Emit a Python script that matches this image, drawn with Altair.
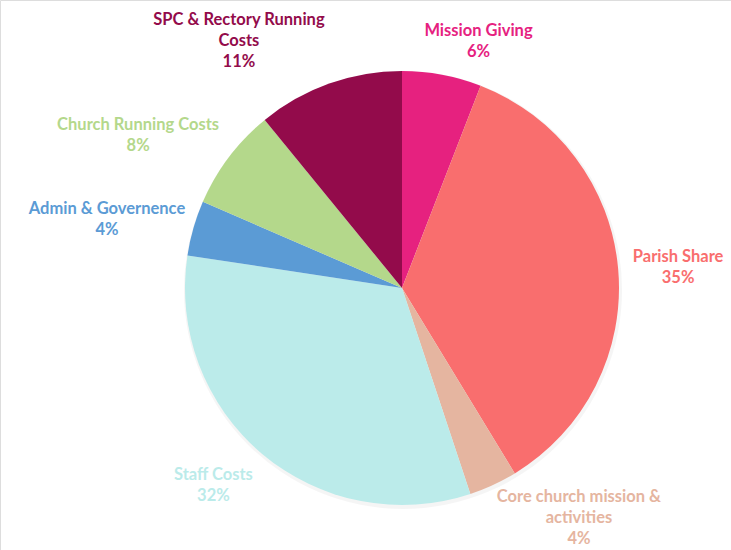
import math
import altair as alt
import pandas as pd

categories = ["Mission Giving", "Parish Share", "Core church mission &\nactivities",
              "Staff Costs", "Admin & Governence", "Church Running Costs",
              "SPC & Rectory Running\nCosts"]
values = [5.9, 35.4, 3.6, 32.5, 4.1, 7.6, 10.9]
colors = ["#E6217F", "#F96E6E", "#E5B5A0", "#BBEBEA", "#5B9BD5", "#B4D88B", "#930B4B"]

W, H = 731, 550
R = 217
GAP = 14
FONT_SIZE = 16.5
LINE_H = 21
KH, KV = 3.5, 1.2


def text_width(s):
    w = 0.0
    for ch in s:
        if ch in "iljtfr .,'I":
            w += 4.6
        elif ch in "mwMWGCRSP%&":
            w += 11.0
        else:
            w += 8.6
    return w


rows = []
total = sum(values)
cum = 0.0
cx, cy = 402, 288
for i, (c, v) in enumerate(zip(categories, values)):
    mid = (cum + v / 2) / total * 2 * math.pi
    cum += v
    label = f"{c}\n{round(v / total * 100)}%"
    lines = label.split("\n")
    w = max(text_width(s) for s in lines)
    h = len(lines) * LINE_H
    s, co = math.sin(mid), math.cos(mid)
    r = R + GAP
    px, py = r * s, -r * co
    f = max(-1.0, min(1.0, KH * s))
    g = max(-1.0, min(1.0, KV * co))
    bx = px + f * w / 2
    by = py - g * h / 2
    # keep the label box inside the chart area
    by = min(by, (H - 3) - cy - h / 2)
    by = max(by, -cy + h / 2)
    by = by - (h - LINE_H) / 2  # anchor on the first line
    rows.append({"cat": c, "value": v, "order": i, "label": label,
                 "lt": math.atan2(bx, -by), "lr": math.hypot(bx, by)})

df = pd.DataFrame(rows)

color_scale = alt.Scale(domain=categories, range=colors)

shadow = alt.Chart(pd.DataFrame({"v": [1]})).mark_arc(
    radius=R + 2, color="#000000", opacity=0.04
).encode(theta=alt.Theta("v:Q"), x=alt.value(cx + 1), y=alt.value(cy + 2))

pie = alt.Chart(df).mark_arc(radius=R, stroke=None).encode(
    theta=alt.Theta("value:Q", stack=True),
    order=alt.Order("order:Q"),
    x=alt.value(cx), y=alt.value(cy),
    color=alt.Color("cat:N", scale=color_scale, legend=None),
)

labels = alt.Chart(df).mark_text(
    font="Lato", fontSize=FONT_SIZE, fontWeight="bold", lineBreak="\n",
    lineHeight=LINE_H, align="center", baseline="middle", dy=2
).encode(
    theta=alt.Theta("lt:Q", scale=None),
    radius=alt.Radius("lr:Q", scale=None),
    x=alt.value(cx), y=alt.value(cy),
    text="label:N",
    color=alt.Color("cat:N", scale=color_scale, legend=None),
)

chart = alt.layer(shadow, pie, labels).resolve_scale(theta="independent").properties(
    width=W, height=H, padding=0, autosize=alt.AutoSizeParams(type="none")
).configure_view(stroke=None).configure(background="white")

chart.save("out.html", embed_options={"renderer": "svg", "actions": False})
